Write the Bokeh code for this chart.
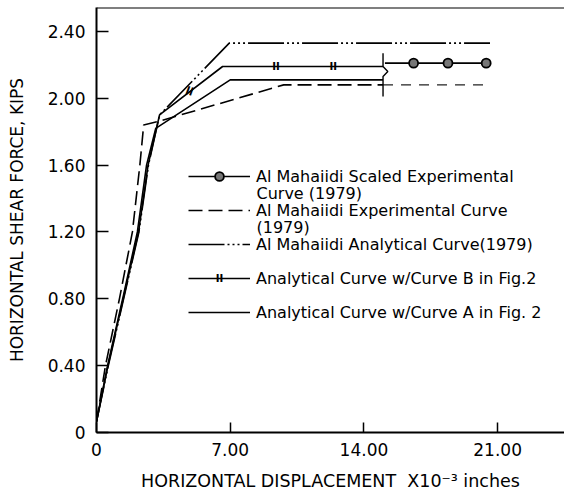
from bokeh.plotting import figure
from bokeh.models import Range1d, FixedTicker, Legend, LegendItem, Label, Span
from bokeh.embed import file_html
from bokeh.resources import INLINE
from bokeh.core.properties import value

# ---- axis ticks ----
x_ticks = [0, 7, 14, 21]
x_tick_labels = ["0", "7.00", "14.00", "21.00"]
y_ticks = [0, 0.4, 0.8, 1.2, 1.6, 2.0, 2.4]
y_tick_labels = ["0", "0.40", "0.80", "1.20", "1.60", "2.00", "2.40"]
X_END = 24.5
Y_END = 2.543

# ---- data ----
# Analytical Curve w/ Curve A in Fig.2 (solid)
curve_a_x = [0, 0.58, 1.37, 2.14, 2.62, 3.1, 7.0, 15.0]
curve_a_y = [0.066, 0.40, 0.80, 1.20, 1.60, 1.82, 2.11, 2.11]
# Analytical Curve w/ Curve B in Fig.2 (solid with || marks)
curve_b_x = [0, 0.60, 1.40, 2.20, 2.70, 3.3, 6.6, 15.0]
curve_b_y = [0.066, 0.40, 0.80, 1.20, 1.60, 1.90, 2.19, 2.19]
curve_b_mark_x = [4.87, 9.4, 12.4]
curve_b_mark_y = [2.04, 2.19, 2.19]
curve_b_mark_angle = [-0.35, 0.0, 0.0]
# Al Mahaiidi Analytical Curve (1979) (dash-dot-dot)
al_analytical_x = [0, 0.62, 1.42, 2.22, 2.72, 3.3, 6.95, 20.6]
al_analytical_y = [0.066, 0.40, 0.80, 1.20, 1.60, 1.90, 2.33, 2.33]
# Al Mahaiidi Experimental Curve (1979) (dashed)
al_exp_x = [0, 0.47, 1.2, 1.88, 2.27, 2.47, 3.2, 9.8, 15.0]
al_exp_y = [0.066, 0.40, 0.80, 1.20, 1.60, 1.84, 1.86, 2.08, 2.08]
al_exp_ext_x = [15.0, 20.4]
al_exp_ext_y = [2.08, 2.08]
# Al Mahaiidi Scaled Experimental Curve (1979)
scaled_x = [15.1, 16.6, 18.4, 20.4]
scaled_y = [2.21, 2.21, 2.21, 2.21]
scaled_pts_x = [16.6, 18.4, 20.4]
scaled_pts_y = [2.21, 2.21, 2.21]
# brace joining the curves at the end of the analysis
brace_x = [15.0, 15.0, 15.25, 15.0, 15.0]
brace_y = [2.27, 2.19, 2.16, 2.13, 2.01]

FONT = "DejaVu Sans"

p = figure(width=564, height=493, output_backend="svg", toolbar_location=None,
           x_range=Range1d(0, X_END), y_range=Range1d(0, Y_END),
           min_border_left=96, min_border_right=0, min_border_top=7,
           min_border_bottom=60)
p.outline_line_color = None
p.xgrid.grid_line_color = None
p.ygrid.grid_line_color = None
p.background_fill_color = "white"

# axes
p.xaxis.ticker = FixedTicker(ticks=x_ticks)
p.xaxis.major_label_overrides = {t: l for t, l in zip(x_ticks, x_tick_labels)}
p.yaxis.ticker = FixedTicker(ticks=y_ticks)
p.yaxis.major_label_overrides = {t: l for t, l in zip(y_ticks, y_tick_labels)}
for ax in (p.xaxis, p.yaxis):
    ax.axis_line_width = 2
    ax.axis_line_color = "black"
    ax.major_tick_line_color = "black"
    ax.major_tick_line_width = 1.5
    ax.major_tick_out = 0
    ax.minor_tick_line_color = None
    ax.major_label_text_font = FONT
    ax.major_label_text_font_size = "17px"
    ax.major_label_text_color = "black"
    ax.axis_label_text_font = FONT
    ax.axis_label_text_font_size = "17px"
    ax.axis_label_text_font_style = "normal"
    ax.axis_label_text_color = "black"
p.xaxis.major_tick_in = 10
p.yaxis.major_tick_in = 12
p.xaxis.major_label_standoff = 10
p.yaxis.major_label_standoff = 11
p.xaxis.axis_label = "HORIZONTAL DISPLACEMENT\u00a0\u00a0X10\u207b\u00b3 inches"
p.xaxis.axis_label_text_font_size = "17.5px"
p.yaxis.axis_label = "HORIZONTAL SHEAR FORCE, KIPS"
p.xaxis.axis_label_standoff = 12
p.yaxis.axis_label_standoff = 18

p.add_layout(Span(location=Y_END, dimension="width", line_color="black", line_width=2))

LW = 1.6
r_a = p.line(curve_a_x, curve_a_y, line_color="black", line_width=LW)
r_b = p.line(curve_b_x, curve_b_y, line_color="black", line_width=LW)
p.text(curve_b_mark_x, curve_b_mark_y, text=["ll"] * len(curve_b_mark_x),
       angle=curve_b_mark_angle, text_font=value(FONT), text_font_size="11px",
       text_font_style="bold", text_align="center", text_baseline="middle",
       text_color="black")
r_an = p.line(al_analytical_x, al_analytical_y, line_color="black", line_width=LW,
              line_dash="36 3 2 3 2 3 2 3")
r_ex = p.line(al_exp_x, al_exp_y, line_color="black", line_width=LW, line_dash="14 6")
p.line(al_exp_ext_x, al_exp_ext_y, line_color="#222222", line_width=1.3, line_dash="10 8")
r_sc = p.line(scaled_x, scaled_y, line_color="black", line_width=LW)
r_sp = p.scatter(scaled_pts_x, scaled_pts_y, marker="circle", size=9,
                 fill_color="#777777", line_color="black", line_width=1.8)
p.line(brace_x, brace_y, line_color="black", line_width=1.4)

legend = Legend(items=[
    LegendItem(label="Al Mahaiidi Scaled Experimental", renderers=[r_sc, r_sp]),
    LegendItem(label="Al Mahaiidi Experimental Curve", renderers=[r_ex]),
    LegendItem(label="Al Mahaiidi Analytical Curve(1979)", renderers=[r_an]),
    LegendItem(label="Analytical Curve w/Curve B in Fig.2", renderers=[r_b]),
    LegendItem(label="Analytical Curve w/Curve A in Fig. 2", renderers=[r_a]),
], location=(92, 109), glyph_width=62, glyph_height=22, label_height=22,
   spacing=12, label_standoff=6, padding=0, margin=0,
   border_line_color=None, background_fill_alpha=0,
   label_text_font=FONT, label_text_font_size="16px", label_text_color="black")
p.add_layout(legend)

# continuation lines of two-line legend labels and the || sample mark
p.add_layout(Label(x=160, y=239, x_units="screen", y_units="screen",
                   text="Curve (1979)", text_font=FONT, text_font_size="16px",
                   text_baseline="middle", text_color="black"))
p.add_layout(Label(x=160, y=205, x_units="screen", y_units="screen",
                   text="(1979)", text_font=FONT, text_font_size="16px",
                   text_baseline="middle", text_color="black"))
p.add_layout(Label(x=123, y=154, x_units="screen", y_units="screen",
                   text="ll", text_font=FONT, text_font_size="11px",
                   text_font_style="bold", text_align="center",
                   text_baseline="middle", text_color="black",
                   background_fill_color="white"))

open("out.html", "w").write(file_html(p, INLINE))
